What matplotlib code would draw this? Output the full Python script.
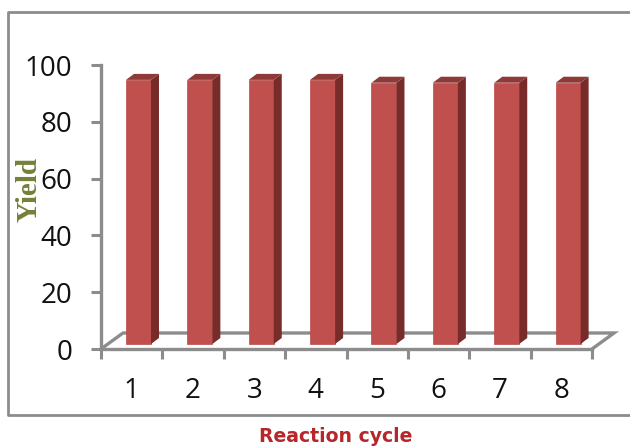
import numpy as np
import matplotlib
matplotlib.use('Agg')
import matplotlib.pyplot as plt
from matplotlib.patches import Polygon

cycles = ['1', '2', '3', '4', '5', '6', '7', '8']
yields = [93, 93, 93, 93, 92, 92, 92, 92]
y_ticks = [0, 20, 40, 60, 80, 100]

W, H = 630, 447
AX_L, AX_R, AX_B, AX_T = 101, 592, 349, 65

fig = plt.figure(figsize=(W / 100, H / 100), dpi=100)
ax = fig.add_axes([AX_L / W, 1 - AX_B / H, (AX_R - AX_L) / W, (AX_B - AX_T) / H])
ax.set_xlim(0.5, 8.5)
ax.set_ylim(0, 100)
ax.patch.set_visible(False)

# one pixel in data units, for the fake 3D depth
px_x = 8 / (AX_R - AX_L)
px_y = 100 / (AX_B - AX_T)
gray = '#8c8c8c'

# floor of the 3D box
floor_dx, floor_dy = 22 * px_x, 16 * px_y
ax.plot([0.5, 0.5 + floor_dx, 8.5 + floor_dx, 8.5],
        [0, floor_dy, floor_dy, 0], color=gray, lw=2.4, clip_on=False,
        solid_joinstyle='miter', zorder=1)

# bars: front face, side, top
bar_w = 25 * px_x
shift = 6.8 * px_x
base = 5 * px_y
dx, dy = 8 * px_x, 6 * px_y
xs = np.arange(1, len(cycles) + 1)
ax.bar(xs + shift, yields, width=bar_w, bottom=base, color='#c0504d',
       edgecolor='#b94a48', linewidth=0.5, zorder=3)
for x, v in zip(xs, yields):
    r = x + shift + bar_w / 2
    l = x + shift - bar_w / 2
    top = v + base
    ax.add_patch(Polygon([(r, base), (r + dx, base + dy), (r + dx, top + dy), (r, top)],
                         closed=True, facecolor='#772c2a', edgecolor='none', zorder=3))
    ax.add_patch(Polygon([(l, top), (l + dx, top + dy), (r + dx, top + dy), (r, top)],
                         closed=True, facecolor='#8f3a38', edgecolor='none', zorder=3))

# axes
for s in ['top', 'right']:
    ax.spines[s].set_visible(False)
for s in ['left', 'bottom']:
    ax.spines[s].set_color(gray)
    ax.spines[s].set_linewidth(2.4)

ax.set_yticks(y_ticks)
ax.set_xticks(np.arange(0.5, 9))
ax.set_xticklabels([])
ax.set_xticks(xs, minor=True)
ax.set_xticklabels(cycles, minor=True, fontsize=20, family='Open Sans', color='#111111')
ax.tick_params(axis='x', which='major', direction='out', length=7, width=2.2, color=gray)
ax.tick_params(axis='x', which='minor', length=0, pad=20)
ax.tick_params(axis='y', direction='out', length=7.5, width=2.2, color=gray, pad=13)
for t in ax.get_yticklabels():
    t.set_fontsize(20)
    t.set_family('Open Sans')
    t.set_color('#111111')

# outer frame, open on the right like the source image
fig.add_artist(plt.Line2D([630 / W, 8 / W, 8 / W, 630 / W],
                          [1 - 12 / H, 1 - 12 / H, 1 - 415 / H, 1 - 415 / H],
                          color=gray, lw=2.0))

fig.text(29 / W, 1 - 190 / H, 'Yield', rotation=90, ha='center', va='center',
         family='Liberation Serif', weight='bold', fontsize=21, color='#76803a')
fig.text(336 / W, 1 - 436 / H, 'Reaction cycle', ha='center', va='center',
         family='DejaVu Sans', weight='bold', fontsize=13.6, color='#b5272a')

fig.savefig('out.png', dpi=100)
